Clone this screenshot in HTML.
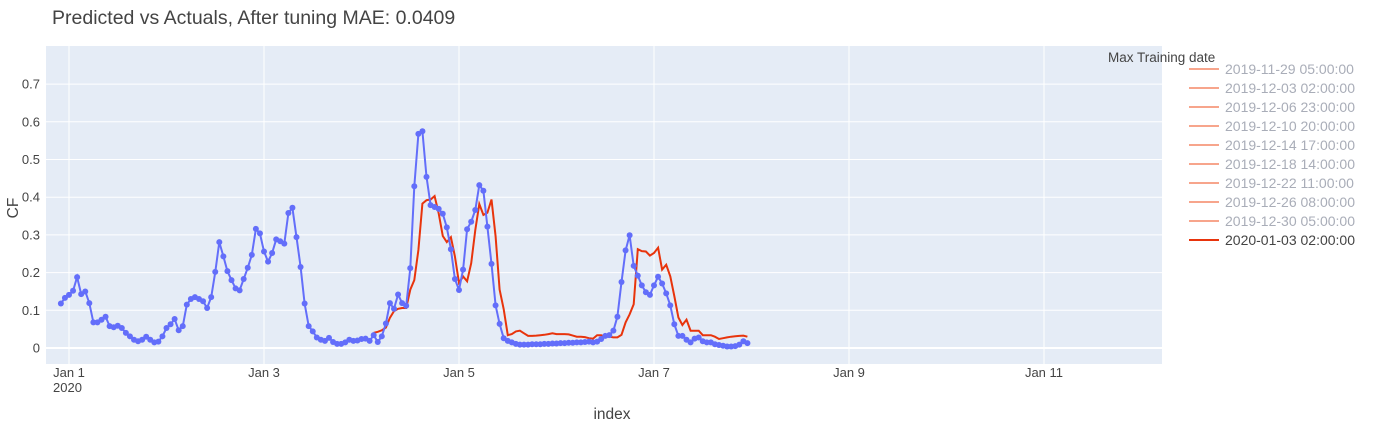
<!DOCTYPE html>
<html><head><meta charset="utf-8">
<style>
body{margin:0;background:#fff;font-family:"Liberation Sans",sans-serif;}
svg text{font-family:"Liberation Sans",sans-serif;}
</style></head>
<body>
<svg id="chart" width="1373" height="424" xmlns="http://www.w3.org/2000/svg">
<rect x="0" y="0" width="1373" height="424" fill="#fff"/>
<text x="52" y="24" font-size="19.5" fill="#444">Predicted vs Actuals, After tuning MAE: 0.0409</text>
<rect x="46" y="46" width="1116" height="318" fill="#e5ecf6"/>
<g id="grid"></g>
<g id="series"></g>
<g id="axes"></g>
<text x="612" y="419" font-size="15.5" fill="#444" text-anchor="middle">index</text>
<text transform="translate(18,208) rotate(-90)" font-size="15.5" fill="#444" text-anchor="middle">CF</text>
<text x="1108" y="62" font-size="13.5" fill="#444">Max Training date</text>
<g id="legend"></g>
</svg>
<script>
const actualStartHour = -2;
const actualValues = [0.118,0.133,0.141,0.152,0.188,0.143,0.150,0.119,0.068,0.068,0.075,0.083,0.058,0.055,0.059,0.053,0.040,0.031,0.022,0.018,0.022,0.030,0.022,0.015,0.017,0.031,0.053,0.063,0.077,0.047,0.058,0.115,0.130,0.135,0.130,0.124,0.106,0.135,0.202,0.281,0.243,0.204,0.180,0.158,0.153,0.183,0.213,0.247,0.316,0.304,0.256,0.229,0.252,0.288,0.283,0.277,0.358,0.372,0.294,0.215,0.118,0.058,0.044,0.028,0.022,0.019,0.027,0.016,0.011,0.011,0.015,0.022,0.019,0.020,0.024,0.025,0.019,0.034,0.016,0.031,0.065,0.119,0.104,0.142,
0.119,0.112,0.212,0.429,0.568,0.575,0.454,0.379,0.374,0.369,0.356,0.320,0.262,0.183,0.154,0.208,0.315,0.335,0.366,0.432,0.417,0.322,0.223,0.113,0.064,0.026,0.019,0.015,0.011,0.009,
0.009,0.009,0.010,0.010,0.010,0.011,0.011,0.012,0.012,0.013,0.013,0.014,0.014,0.015,0.015,0.016,0.017,
0.015,0.017,0.024,0.032,0.034,0.046,0.083,0.175,0.259,0.299,0.218,0.192,0.166,0.148,0.141,0.166,0.189,0.171,0.145,0.113,0.063,0.032,0.032,0.022,0.015,0.025,0.028,0.018,0.015,0.015,0.010,0.008,0.006,0.004,0.004,0.005,0.009,0.018,0.013];
const predStartHour = 75;
const predValues = [0.040,0.043,0.047,0.054,0.080,0.098,0.104,0.106,0.106,0.155,0.180,0.260,0.383,0.392,0.394,0.403,0.357,0.297,0.281,0.294,0.243,0.173,0.190,0.177,0.225,0.313,0.382,0.353,0.359,0.394,0.296,0.155,0.103,0.034,0.037,0.044,0.046,0.039,0.032,0.032,0.033,0.034,0.035,0.037,0.039,0.037,0.037,0.037,0.036,0.033,0.030,0.030,0.029,0.026,0.025,0.034,0.034,0.030,0.030,0.028,0.028,0.035,0.068,0.089,0.116,0.262,0.257,0.256,0.245,0.252,0.266,0.208,0.221,0.190,0.138,0.081,0.061,0.075,0.046,0.046,0.046,0.034,0.034,0.034,0.030,0.024,0.026,0.028,0.030,0.031,0.032,0.033,0.030];
const yTicks = [0,0.1,0.2,0.3,0.4,0.5,0.6,0.7];
const yTickLabels = ["0","0.1","0.2","0.3","0.4","0.5","0.6","0.7"];
const xTickDays = [0,2,4,6,8,10];
const xTickLabels = ["Jan 1","Jan 3","Jan 5","Jan 7","Jan 9","Jan 11"];
const legendLabels = ["2019-11-29 05:00:00","2019-12-03 02:00:00","2019-12-06 23:00:00","2019-12-10 20:00:00","2019-12-14 17:00:00","2019-12-18 14:00:00","2019-12-22 11:00:00","2019-12-26 08:00:00","2019-12-30 05:00:00","2020-01-03 02:00:00"];

const NS="http://www.w3.org/2000/svg";
const X0=46,X1=1162,Y0=46,Y1=364;
function xs(h){return 69+h*(97.5/24);}
function ys(v){return 348-v*377;}
function mk(tag,attrs,parent){const e=document.createElementNS(NS,tag);for(const k in attrs)e.setAttribute(k,attrs[k]);parent.appendChild(e);return e;}
const grid=document.getElementById('grid'),axes=document.getElementById('axes'),series=document.getElementById('series'),legend=document.getElementById('legend');
yTicks.forEach((v,i)=>{
  const l=mk('line',{x1:X0,x2:X1,y1:ys(v),y2:ys(v),stroke:'#fff','stroke-width':v===0?2:1},grid);
  
  
  const t=mk('text',{x:40,y:ys(v)+4.5,'font-size':13,fill:'#444','text-anchor':'end'},axes);
  t.textContent=yTickLabels[i];
  
  
});
xTickDays.forEach((d,i)=>{
  const x=xs(d*24);
  const l=mk('line',{x1:x,x2:x,y1:Y0,y2:Y1,stroke:'#fff','stroke-width':1},grid);
  
  
  const t=mk('text',{x:x,y:377,'font-size':13,fill:'#444','text-anchor':'middle'},axes);
  t.textContent=xTickLabels[i];
  
  
});
const yr=mk('text',{x:xs(0)-16,y:392,'font-size':13,fill:'#444'},axes);
yr.textContent='2020';



const pp=predValues.map((v,i)=>xs(predStartHour+i).toFixed(1)+','+ys(v).toFixed(1)).join(' ');
const pl=mk('polyline',{points:pp,fill:'none',stroke:'#e8340c','stroke-width':2},series);


const ap=actualValues.map((v,i)=>xs(actualStartHour+i).toFixed(1)+','+ys(v).toFixed(1)).join(' ');
const al=mk('polyline',{points:ap,fill:'none',stroke:'#636efa','stroke-width':2},series);


actualValues.forEach((v,i)=>{
  const c=mk('circle',{cx:xs(actualStartHour+i),cy:ys(v),r:3,fill:'#636efa'},series);
  
  
});
legendLabels.forEach((lab,i)=>{
  const y=69+i*19;
  const last=i===legendLabels.length-1;
  const g=mk('g',{},legend);
  
  
  mk('line',{x1:1189,x2:1219,y1:y,y2:y,stroke:last?'#e8340c':'#f7a58c','stroke-width':2},g);
  const t=mk('text',{x:1225,y:y+5,'font-size':14,fill:last?'#444':'#a9adb8'},g);
  t.textContent=lab;
});
</script>
</body></html>
